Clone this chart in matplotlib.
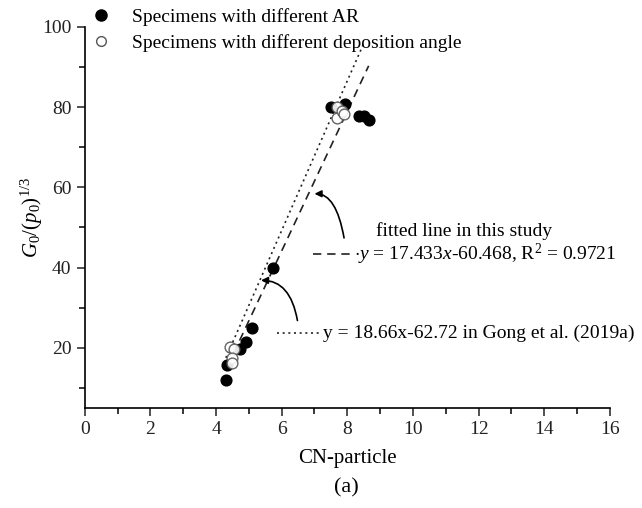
import matplotlib
matplotlib.use("Agg")
import matplotlib.pyplot as plt
from matplotlib.lines import Line2D

plt.rcParams["font.family"] = ["Liberation Serif", "DejaVu Serif"]
plt.rcParams["mathtext.fontset"] = "custom"
plt.rcParams["mathtext.rm"] = "Liberation Serif"
plt.rcParams["mathtext.it"] = "Liberation Serif:italic"

# specimens with different aspect ratio (filled)
ar_cn = [4.29, 4.33, 4.73, 4.90, 5.11, 5.74, 7.51, 7.92, 8.37, 8.52, 8.65]
ar_g = [12.0, 15.6, 19.8, 21.5, 24.9, 39.9, 80.1, 80.8, 77.8, 77.8, 76.9]

# specimens with different deposition angle (open)
dep_cn = [4.42, 4.55, 4.48, 4.48, 7.68, 7.70, 7.85, 7.90]
dep_g = [20.3, 19.6, 17.5, 16.3, 80.0, 77.4, 79.0, 78.4]

# fitted line of this study and line from Gong et al. (2019a), read end points
fit_x = [4.35, 8.65]
fit_y = [15.4, 90.3]
gong_x = [4.30, 8.50]
gong_y = [17.5, 95.9]

fig = plt.figure(figsize=(6.42, 5.08), dpi=100)
ax = fig.add_axes([0.132, 0.197, 0.818, 0.75])

ax.plot(gong_x, gong_y, color="#222222", lw=1.2, ls=(0, (1.2, 2.2)))
ax.plot(fit_x, fit_y, color="#222222", lw=1.2, ls=(0, (5, 3.5)))
ax.scatter(ar_cn, ar_g, s=60, c="black", zorder=3)
ax.scatter(dep_cn, dep_g, s=60, facecolors="white", edgecolors="#555555",
           linewidths=1.0, zorder=4, alpha=0.9)

ax.set_xlim(0, 16)
ax.set_ylim(5, 100)
ax.set_xticks(range(0, 17, 2))
ax.set_xticks(range(1, 16, 2), minor=True)
ax.set_yticks(range(20, 101, 20))
ax.set_yticks(range(10, 100, 20), minor=True)
for s in ["top", "right"]:
    ax.spines[s].set_visible(False)
for s in ["left", "bottom"]:
    ax.spines[s].set_linewidth(1.2)
ax.tick_params(which="major", direction="out", length=6, width=1.1, labelsize=14, colors="#222222")
ax.tick_params(which="minor", direction="out", length=4, width=1.1)

ax.set_xlabel("CN-particle", fontsize=15, labelpad=8)
ax.set_ylabel(r"$G_0/(p_0)^{\mathit{1/3}}$", fontsize=15, labelpad=-2)

# annotations
ax.text(8.88, 49.1, "fitted line in this study", fontsize=14, va="center")
ax.plot([6.94, 8.15], [43.4, 43.4], color="#222222", lw=1.2, ls=(0, (5, 3.5)), clip_on=False)
ax.text(8.2, 43.4, r"$\cdot y$ = 17.433$x$-60.468, R$^2$ = 0.9721", fontsize=14, va="center")
ax.plot([5.85, 7.2], [23.6, 23.6], color="#222222", lw=1.2, ls=(0, (1.2, 2.2)), clip_on=False)
ax.text(7.25, 23.6, "y = 18.66x-62.72 in Gong et al. (2019a)", fontsize=14, va="center")

ax.annotate("", xy=(7.0, 58.4), xytext=(7.9, 47.4),
            arrowprops=dict(arrowstyle="-|>", color="black", lw=1.2,
                            connectionstyle="angle3,angleA=100,angleB=0",
                            shrinkA=0, shrinkB=0))
ax.annotate("", xy=(5.37, 36.8), xytext=(6.48, 26.8),
            arrowprops=dict(arrowstyle="-|>", color="black", lw=1.2,
                            connectionstyle="angle3,angleA=100,angleB=0",
                            shrinkA=0, shrinkB=0))

handles = [
    Line2D([], [], ls="", marker="o", ms=8, mfc="black", mec="black"),
    Line2D([], [], ls="", marker="o", ms=7, mfc="white", mec="#555555"),
]
fig.legend(handles, ["Specimens with different AR", "Specimens with different deposition angle"],
           loc="upper left", bbox_to_anchor=(0.115, 1.0), frameon=False, fontsize=14,
           handletextpad=0.6, labelspacing=0.45, borderaxespad=0.0)

fig.text(0.54, 0.04, "(a)", fontsize=16, ha="center", va="center")

fig.savefig("out.png", dpi=100)
